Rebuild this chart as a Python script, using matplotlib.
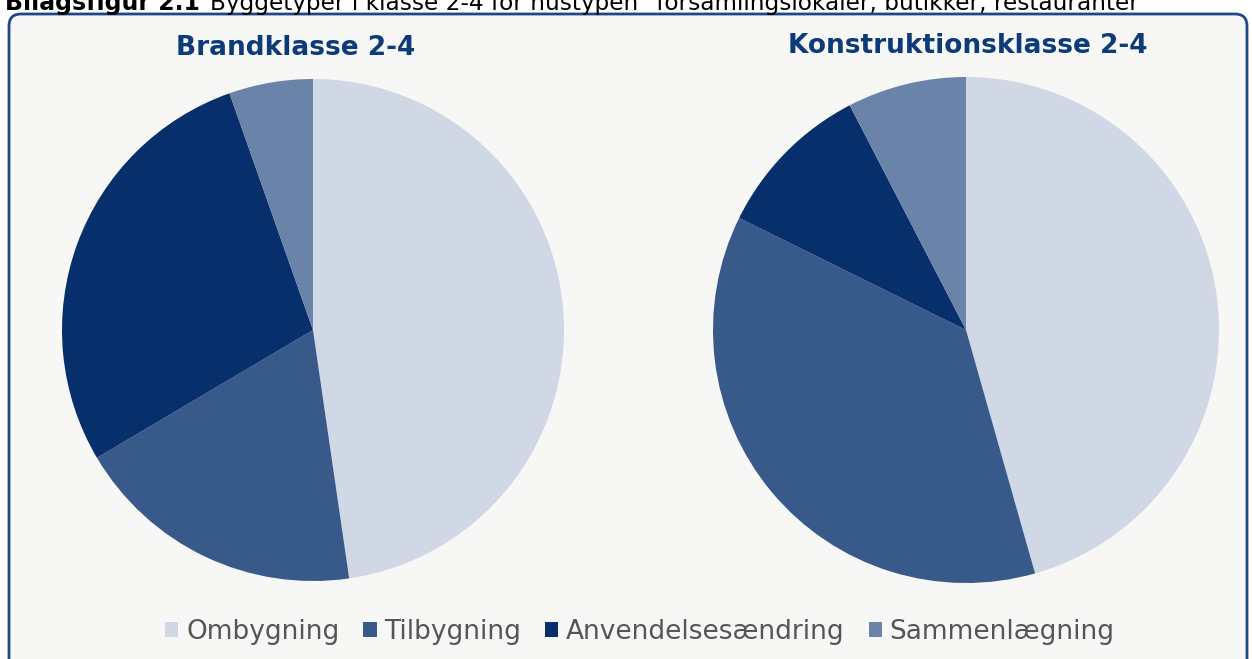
import matplotlib
matplotlib.use("Agg")
import matplotlib.pyplot as plt
from matplotlib.patches import FancyBboxPatch, Rectangle

categories = ["Ombygning", "Tilbygning", "Anvendelsesændring", "Sammenlægning"]
brand_values = [47.7, 18.8, 28.1, 5.4]
konstr_values = [45.6, 36.7, 10.1, 7.6]
titles = ["Brandklasse 2-4", "Konstruktionsklasse 2-4"]
colors = ["#D0D7E5", "#375A8A", "#072F6B", "#6A83A8"]

W, H = 1252, 659
fig = plt.figure(figsize=(W / 100, H / 100), dpi=100)
fig.patch.set_facecolor("white")

def fx(x):
    return x / W

def fy(y):
    return 1 - y / H

# frame box
bg = fig.add_axes([0, 0, 1, 1])
bg.set_xlim(0, W)
bg.set_ylim(H, 0)
bg.axis("off")
box = FancyBboxPatch((9, 14), 1238, 700, boxstyle="round,pad=0,rounding_size=12",
                     facecolor="#F7F7F5", edgecolor="#1F4788", linewidth=2.0)
bg.add_patch(box)

# heading (cut at top, as in the reference)
bg.text(5, 10, "Bilagsfigur 2.1", fontsize=17, fontweight="bold", color="black",
        ha="left", va="baseline")
bg.text(210, 10, "Byggetyper i klasse 2-4 for hustypen \"forsamlingslokaler, butikker, restauranter\"",
        fontsize=16.7, color="black", ha="left", va="baseline")

pies = [
    (brand_values, (313, 330), 251, titles[0], (296, 48)),
    (konstr_values, (966, 330), 253, titles[1], (968, 46)),
]
for vals, (cx, cy), r, title, (tx, ty) in pies:
    ax = fig.add_axes([fx(cx - r), fy(cy + r), (2 * r) / W, (2 * r) / H])
    ax.pie(vals, colors=colors, startangle=90, counterclock=False,
           wedgeprops=dict(linewidth=0), radius=1)
    ax.set_xlim(-1, 1)
    ax.set_ylim(-1, 1)
    ax.set_aspect("auto")
    ax.axis("off")
    bg.text(tx, ty, title, fontsize=19, fontweight="bold", color="#0D3A78",
            ha="center", va="center")

# legend
handles = [Rectangle((0, 0), 1, 1, facecolor=c, edgecolor="none") for c in colors]
leg = fig.legend(handles, categories, loc="center", bbox_to_anchor=(fx(640), fy(632)),
                 ncol=4, frameon=False, fontsize=19, handlelength=0.5, handleheight=0.5,
                 handletextpad=0.3, columnspacing=0.9, labelcolor="#555555")

fig.savefig("out.png", dpi=100, facecolor="white")
